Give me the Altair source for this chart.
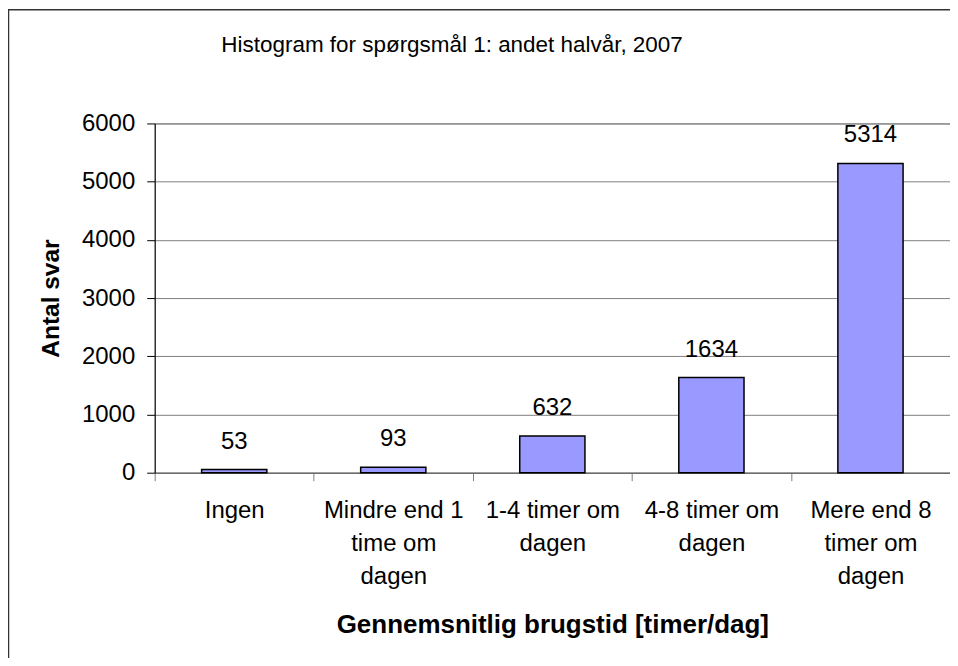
import json
import altair as alt
import pandas as pd

# ---- data ----
title_text = "Histogram for spørgsmål 1: andet halvår, 2007"
categories = [
    "Ingen",
    "Mindre end 1 time om dagen",
    "1-4 timer om dagen",
    "4-8 timer om dagen",
    "Mere end 8 timer om dagen",
]
counts = [53, 93, 632, 1634, 5314]
tick_label_lines = [
    ["Ingen"],
    ["Mindre end 1", "time om", "dagen"],
    ["1-4 timer om", "dagen"],
    ["4-8 timer om", "dagen"],
    ["Mere end 8", "timer om", "dagen"],
]
y_ticks = [0, 1000, 2000, 3000, 4000, 5000, 6000]
x_title = "Gennemsnitlig brugstid [timer/dag]"
y_title = "Antal svar"

df = pd.DataFrame({"cat": categories, "n": counts})

label_expr = (
    json.dumps(tick_label_lines, ensure_ascii=False)
    + "[indexof("
    + json.dumps(categories, ensure_ascii=False)
    + ", datum.value)]"
)

FONT = "Liberation Sans"

x_enc = alt.X(
    "cat:N",
    sort=categories,
    scale=alt.Scale(paddingInner=0, paddingOuter=0),
    axis=alt.Axis(
        title=x_title,
        labelExpr=label_expr,
        labelAngle=0,
        labelFontSize=24,
        labelLineHeight=33,
        labelBaseline="alphabetic",
        labelPadding=37,
        labelColor="black",
        tickSize=8,
        tickColor="#808080",
        tickBand="extent",
        domainColor="#606060",
        grid=False,
        titleFontSize=26,
        titleFontWeight="bold",
        titleColor="black",
        titleBaseline="alphabetic",
        titleY=160,
    ),
)

y_enc = alt.Y(
    "n:Q",
    scale=alt.Scale(domain=[0, 6000], nice=False),
    axis=alt.Axis(
        values=y_ticks,
        format="d",
        title=y_title,
        labelFontSize=24,
        labelPadding=12,
        labelColor="black",
        tickSize=8,
        tickColor="black",
        domainColor="black",
        grid=True,
        gridColor="#808080",
        gridOpacity=1,
        titleFontSize=24.5,
        titleFontWeight="bold",
        titleColor="black",
        titleAngle=-90,
        titleAlign="center",
        titleBaseline="alphabetic",
        titleX=-96,
        titleY=175,
    ),
)

base = alt.Chart(df)

bars = base.mark_bar(
    width=alt.RelativeBandSize(0.41),
    color="#9999FF",
    stroke="black",
    strokeWidth=1.5,
).encode(x=x_enc, y=y_enc)

values = base.mark_text(
    dy=-21, baseline="alphabetic", fontSize=24, color="black"
).encode(
    x=alt.X("cat:N", sort=categories),
    y=alt.Y("n:Q"),
    text=alt.Text("n:Q", format="d"),
)

one = alt.Data(values=[{"t": title_text}])

title = alt.Chart(one).mark_text(
    align="center", baseline="alphabetic", fontSize=22.5, color="black"
).encode(x=alt.value(298), y=alt.value(-72), text="t:N")

border_left = alt.Chart(one).mark_rule(color="#333333", strokeWidth=1.5).encode(
    x=alt.value(-146.5), y=alt.value(-114), y2=alt.value(560)
)
border_top = alt.Chart(one).mark_rule(color="#333333", strokeWidth=1.5).encode(
    y=alt.value(-114), x=alt.value(-147.5), x2=alt.value(820)
)

chart = (
    alt.layer(bars, values, title, border_left, border_top)
    .properties(
        width=797,
        height=350,
        padding={"left": 147, "top": 115, "right": 0, "bottom": 185},
        autosize=alt.AutoSizeParams(type="none"),
        background="white",
    )
    .configure(font=FONT)
    .configure_view(stroke="#808080", strokeWidth=1)
)

chart.save("out.html", embed_options={"renderer": "svg", "actions": False})
